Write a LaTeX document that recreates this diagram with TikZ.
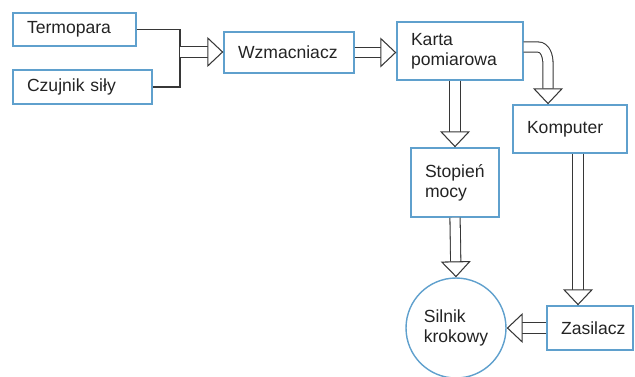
\documentclass[tikz,border=0pt]{standalone}
\usepackage{fontspec}
\setmainfont{Liberation Sans}
\usetikzlibrary{arrows.meta, positioning, calc}
\definecolor{boxblue}{RGB}{95,160,205}
\definecolor{arrowgray}{RGB}{55,55,55}
\definecolor{textgray}{RGB}{35,35,35}

\begin{document}
\begin{tikzpicture}[
    x=0.02cm, y=-0.02cm,
    box/.style={draw=boxblue, line width=0.8pt, inner xsep=0.28cm, inner ysep=0pt, align=left,
        font=\fontsize{10}{11.5}\selectfont, text=textgray},
    wire/.style={draw=arrowgray, line width=0.7pt},
    hollow/.style={draw=arrowgray, line width=0.6pt, double=white, double distance=5.2pt,
        -{Triangle[open, length=0.32cm, width=0.6cm, fill=white]}},
]
    \useasboundingbox (0,0) rectangle (635,376);
    % input sensors
    \node[box, text width=1.90cm, minimum height=0.66cm] (term) at (74.5,29.5) {Termopara};
    \node[box, text width=2.22cm, minimum height=0.68cm] (czuj) at (82.5,87) {Czujnik siły};
    \node[box, text width=2.04cm, minimum height=0.82cm] (wzm) at (289,52.5) {Wzmacniacz};
    \node[box, text width=1.96cm, minimum height=1.16cm] (karta) at (460,51) {Karta\\pomiarowa};
    \node[box, text width=1.72cm, minimum height=0.96cm] (komp) at (570,129) {Komputer};
    \node[box, text width=1.20cm, minimum height=1.38cm] (stop) at (455,182.5) {Stopień\\mocy};
    \node[box, text width=1.16cm, minimum height=0.88cm] (zas) at (590,328) {Zasilacz};
    \node[box, circle, minimum size=2cm, inner sep=0pt] (silnik) at (456,328) {Silnik\\krokowy};

    \coordinate (jn) at (180,52);
    \draw[wire] (term.east) -| (jn) |- (czuj.east);
    \draw[hollow] (jn) -- (wzm.west |- jn);
    \draw[hollow] (wzm.east) -- (karta.west |- wzm.east);
    % bent arrow to the computer
    \coordinate (bend) at ($([xshift=-0.44cm]komp.north)+(0,-40)$);
    \draw[hollow] ([yshift=0.08cm]karta.east) -- ++(14,0) to[out=0, in=90] (bend) -- ([xshift=-0.44cm]komp.north);
    \draw[hollow] (karta.south -| stop.north) -- (stop.north);
    \draw[hollow] (stop.south) -- (silnik.north);
    \draw[hollow] ([xshift=0.16cm]komp.south) -- ([xshift=0.16cm]komp.south |- zas.north);
    \draw[hollow] (zas.west) -- (silnik.east);
\end{tikzpicture}
\end{document}
